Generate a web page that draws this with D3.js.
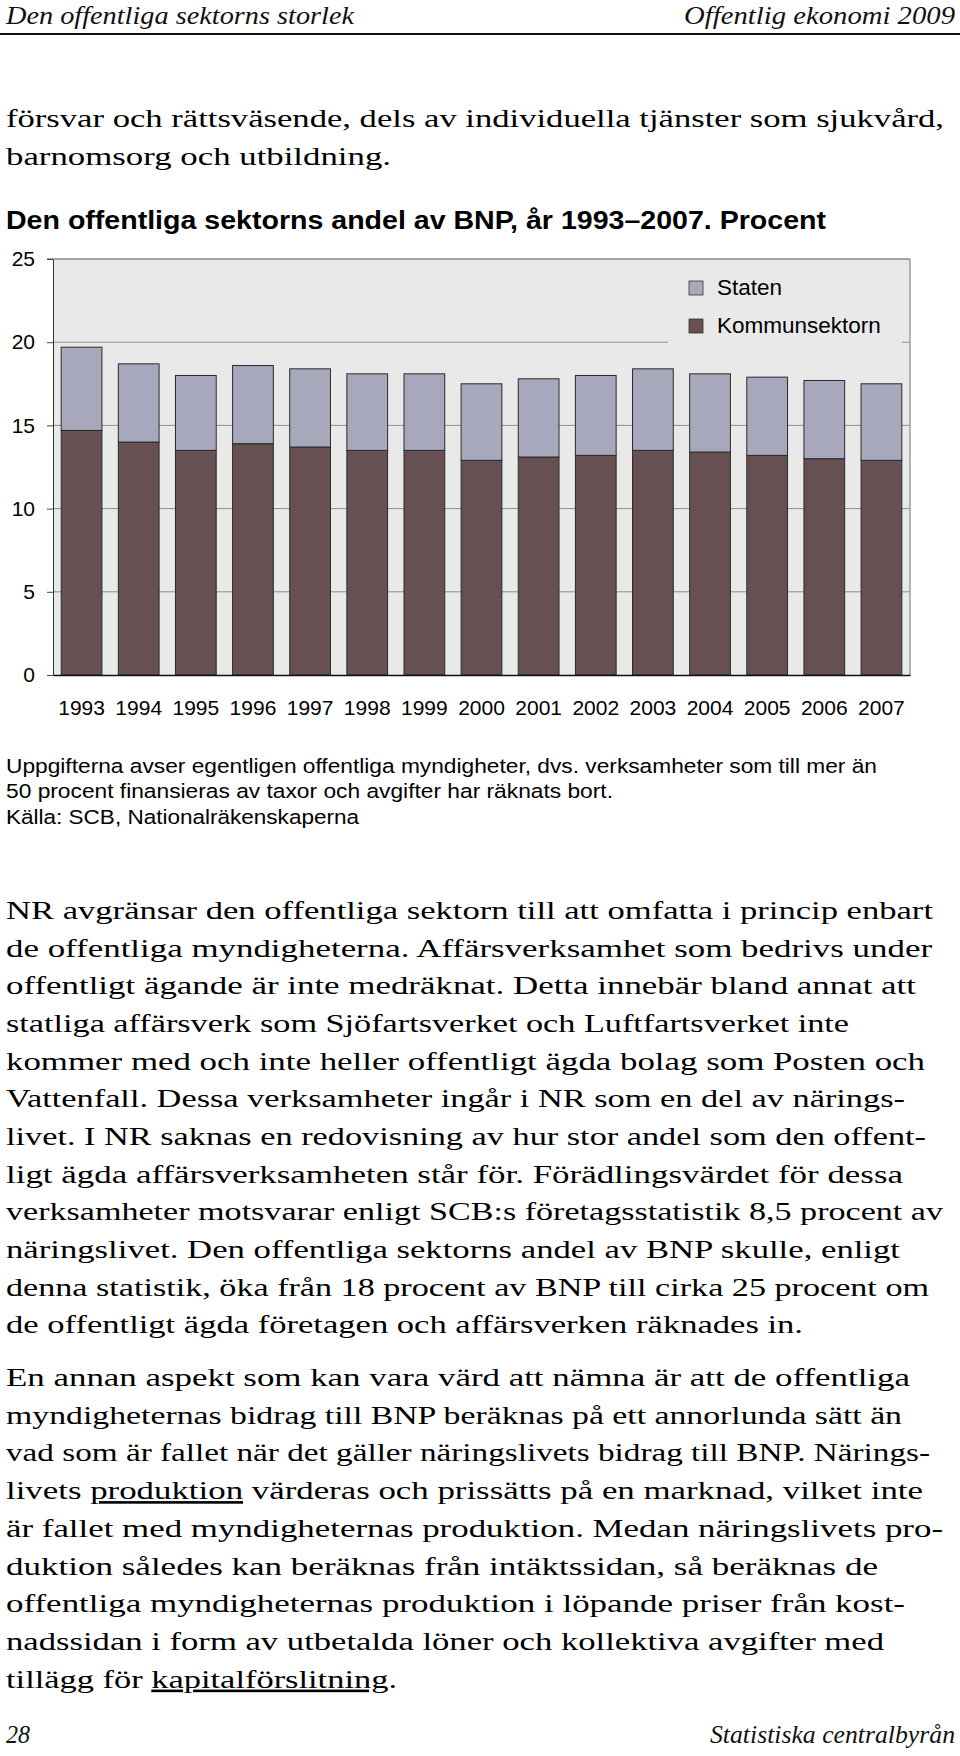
<!DOCTYPE html>
<html><head><meta charset="utf-8">
<script src="https://cdn.jsdelivr.net/npm/d3@7"></script>
<style>
body{margin:0;background:#fff}
svg{display:block}
.serif{font-family:"Liberation Serif","Times New Roman",serif;font-size:26px;fill:#000}
.ital{font-family:"Liberation Serif","Times New Roman",serif;font-style:italic;font-size:26px;fill:#111}
.sans{font-family:"Liberation Sans",Arial,sans-serif;fill:#000}
</style>
</head><body>
<svg id="page" width="960" height="1756"></svg>
<script>
// ---------- DATA ----------
const years = ["1993","1994","1995","1996","1997","1998","1999","2000","2001","2002","2003","2004","2005","2006","2007"];
const kommunsektorn = [14.7, 14.0, 13.5, 13.9, 13.7, 13.5, 13.5, 12.9, 13.1, 13.2, 13.5, 13.4, 13.2, 13.0, 12.9];
const staten        = [5.0, 4.7, 4.5, 4.7, 4.7, 4.6, 4.6, 4.6, 4.7, 4.8, 4.9, 4.7, 4.7, 4.7, 4.6];
const yTicks = [0, 5, 10, 15, 20, 25];
const seriesNames = ["Staten", "Kommunsektorn"];
const chartTitle = "Den offentliga sektorns andel av BNP, år 1993–2007. Procent";
const footnotes = [
  "Uppgifterna avser egentligen offentliga myndigheter, dvs. verksamheter som till mer än",
  "50 procent finansieras av taxor och avgifter har räknats bort.",
  "Källa: SCB, Nationalräkenskaperna"
];
const headerLeft = "Den offentliga sektorns storlek";
const headerRight = "Offentlig ekonomi 2009";
const footerLeft = "28";
const footerRight = "Statistiska centralbyrån";
const paraTop = [
  "försvar och rättsväsende, dels av individuella tjänster som sjukvård,",
  "barnomsorg och utbildning."
];
const para1 = [
  "NR avgränsar den offentliga sektorn till att omfatta i princip enbart",
  "de offentliga myndigheterna. Affärsverksamhet som bedrivs under",
  "offentligt ägande är inte medräknat. Detta innebär bland annat att",
  "statliga affärsverk som Sjöfartsverket och Luftfartsverket inte",
  "kommer med och inte heller offentligt ägda bolag som Posten och",
  "Vattenfall. Dessa verksamheter ingår i NR som en del av närings-",
  "livet. I NR saknas en redovisning av hur stor andel som den offent-",
  "ligt ägda affärsverksamheten står för. Förädlingsvärdet för dessa",
  "verksamheter motsvarar enligt SCB:s företagsstatistik 8,5 procent av",
  "näringslivet. Den offentliga sektorns andel av BNP skulle, enligt",
  "denna statistik, öka från 18 procent av BNP till cirka 25 procent om",
  "de offentligt ägda företagen och affärsverken räknades in."
];
const para2 = [
  "En annan aspekt som kan vara värd att nämna är att de offentliga",
  "myndigheternas bidrag till BNP beräknas på ett annorlunda sätt än",
  "vad som är fallet när det gäller näringslivets bidrag till BNP. Närings-",
  "livets _produktion_ värderas och prissätts på en marknad, vilket inte",
  "är fallet med myndigheternas produktion. Medan näringslivets pro-",
  "duktion således kan beräknas från intäktssidan, så beräknas de",
  "offentliga myndigheternas produktion i löpande priser från kost-",
  "nadssidan i form av utbetalda löner och kollektiva avgifter med",
  "tillägg för _kapitalförslitning_."
];

// ---------- LAYOUT ----------
const svg = d3.select("#page");
const LX = 6;
const widthsTop = [938, 385];
const widths1 = [927, 926, 910, 843, 919, 899, 920, 897, 937, 894, 923, 797];
const widths2 = [904, 896, 924, 917, 937, 872, 899, 878, 391];

function drawLines(lines, widths, y0, lh) {
  lines.forEach((ln, i) => {
    const t = svg.append("text").attr("class", "serif").attr("x", LX).attr("y", y0 + i * lh);
    ln.split("_").forEach((p, j) => {
      if (!p) return;
      const ts = t.append("tspan").text(p);
      if (j % 2 === 1) ts.attr("text-decoration", "underline");
    });
    t.attr("textLength", widths[i]).attr("lengthAdjust", "spacingAndGlyphs");
  });
}

// header
svg.append("text").attr("class", "ital").attr("x", LX).attr("y", 24)
  .attr("textLength", 348).attr("lengthAdjust", "spacingAndGlyphs").text(headerLeft);
svg.append("text").attr("class", "ital").attr("x", 684).attr("y", 24)
  .attr("textLength", 271).attr("lengthAdjust", "spacingAndGlyphs").text(headerRight);
svg.append("line").attr("x1", 0).attr("x2", 960).attr("y1", 34).attr("y2", 34)
  .attr("stroke", "#111").attr("stroke-width", 2);

drawLines(paraTop, widthsTop, 127, 37.7);

// chart title
svg.append("text").attr("class", "sans").attr("x", LX).attr("y", 229)
  .style("font-size", "25px").style("font-weight", "bold")
  .attr("textLength", 820).attr("lengthAdjust", "spacingAndGlyphs").text(chartTitle);

// ---------- CHART ----------
const plot = { left: 53, right: 910, top: 259, bottom: 675 };
const x = d3.scaleBand().domain(years).range([plot.left, plot.right])
  .paddingInner(0.287).paddingOuter(0.1435);
const y = d3.scaleLinear().domain([0, 25]).range([plot.bottom, plot.top]);

const g = svg.append("g");
g.append("rect").attr("x", plot.left).attr("y", plot.top)
  .attr("width", plot.right - plot.left).attr("height", plot.bottom - plot.top)
  .attr("fill", "#e9e9e9");

// gridlines
g.selectAll("line.grid").data(yTicks.filter(d => d > 0 && d < 25)).join("line")
  .attr("class", "grid").attr("x1", plot.left).attr("x2", plot.right)
  .attr("y1", d => y(d)).attr("y2", d => y(d))
  .attr("stroke", "#8e8e8e").attr("stroke-width", 1);
// top and right border
g.append("line").attr("x1", plot.left - 6).attr("x2", plot.right).attr("y1", y(25)).attr("y2", y(25))
  .attr("stroke", "#555").attr("stroke-width", 1.2);
g.append("line").attr("x1", plot.right).attr("x2", plot.right).attr("y1", plot.top).attr("y2", plot.bottom)
  .attr("stroke", "#888").attr("stroke-width", 1.2);

// legend background (covers gridline)
g.append("rect").attr("x", 668).attr("y", 263).attr("width", 234).attr("height", 87).attr("fill", "#e9e9e9");

// bars
const rows = years.map((yr, i) => ({ year: yr, Kommunsektorn: kommunsektorn[i], Staten: staten[i] }));
const stack = d3.stack().keys(["Kommunsektorn", "Staten"])(rows);
const colors = { Staten: "#a8a8bc", Kommunsektorn: "#665051" };
g.selectAll("g.series").data(stack).join("g").attr("class", "series")
  .attr("fill", d => colors[d.key])
  .selectAll("rect").data(d => d).join("rect")
  .attr("x", d => x(d.data.year)).attr("width", x.bandwidth())
  .attr("y", d => y(d[1])).attr("height", d => y(d[0]) - y(d[1]))
  .attr("stroke", "#2a2a2a").attr("stroke-width", 1);

// y axis
const yAxis = g.append("g").attr("transform", `translate(${plot.left},0)`)
  .call(d3.axisLeft(y).tickValues(yTicks).tickSize(6).tickSizeOuter(0).tickPadding(12));
yAxis.select(".domain").attr("stroke", "#333");
yAxis.selectAll(".tick line").attr("stroke", "#444");
yAxis.selectAll("text").attr("font-family", "'Liberation Sans', Arial, sans-serif")
  .attr("font-size", 21).attr("fill", "#000");

// x axis
const xAxis = g.append("g").attr("transform", `translate(0,${plot.bottom})`)
  .call(d3.axisBottom(x).tickSize(0).tickPadding(25).tickSizeOuter(0));
xAxis.select(".domain").attr("stroke", "#111").attr("stroke-width", 1.6);
xAxis.selectAll("text").attr("font-family", "'Liberation Sans', Arial, sans-serif")
  .attr("font-size", 21).attr("fill", "#000");

// legend
const legend = g.append("g");
seriesNames.forEach((name, i) => {
  const ly = 281 + i * 38;
  legend.append("rect").attr("x", 689).attr("y", ly).attr("width", 14).attr("height", 14)
    .attr("fill", colors[name]).attr("stroke", "#333").attr("stroke-width", 0.8);
  legend.append("text").attr("class", "sans").attr("x", 717).attr("y", ly + 14)
    .style("font-size", "22.5px").text(name);
});

// footnotes
const footW = [871, 607, 353];
const footY = [773, 798, 824];
footnotes.forEach((f, i) => {
  svg.append("text").attr("class", "sans").attr("x", LX).attr("y", footY[i])
    .style("font-size", "20.5px").attr("textLength", footW[i]).attr("lengthAdjust", "spacingAndGlyphs").text(f);
});

// body paragraphs
drawLines(para1, widths1, 919, 37.65);
drawLines(para2, widths2, 1386, 37.7);

// footer
svg.append("text").attr("class", "ital").attr("x", LX).attr("y", 1743)
  .attr("textLength", 24).attr("lengthAdjust", "spacingAndGlyphs").text(footerLeft);
svg.append("text").attr("class", "ital").attr("x", 710).attr("y", 1743)
  .attr("textLength", 245).attr("lengthAdjust", "spacingAndGlyphs").text(footerRight);
</script>
</body></html>
